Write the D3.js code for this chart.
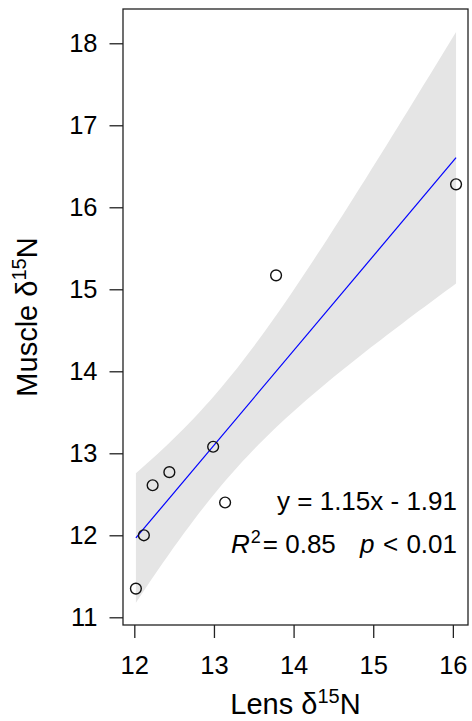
<!DOCTYPE html>
<html>
<head>
<meta charset="utf-8">
<script src="https://cdn.jsdelivr.net/npm/d3@7"></script>
<style>
  html, body { margin: 0; padding: 0; background: #fff; }
  svg { display: block; }
  text { font-family: "Liberation Sans", Arial, Helvetica, sans-serif; fill: #000; }
</style>
</head>
<body>
<svg id="chart" width="472" height="721"></svg>
<script>
// ---- data ----
const lensN   = [12.02, 12.12, 12.23, 12.44, 12.99, 13.14, 13.78, 16.04];
const muscleN = [11.35, 12.00, 12.61, 12.77, 13.08, 12.40, 15.17, 16.28];
const xTicks = [12, 13, 14, 15, 16];
const yTicks = [11, 12, 13, 14, 15, 16, 17, 18];
const xDomain = [11.858, 16.19];
const yDomain = [10.906, 18.418];
const tCrit = 2.4469; // t(0.975, df = 6)
const eqLabel = "y = 1.15x - 1.91";
const r2Label = "0.85";
const pLabel = "0.01";

// ---- layout ----
const svg = d3.select("#chart");
const L = 123, R = 468, T = 9, B = 625;
const x = d3.scaleLinear().domain(xDomain).range([L, R]);
const y = d3.scaleLinear().domain(yDomain).range([B, T]);

// ---- linear fit + 95% confidence band ----
const n = lensN.length;
const mx = d3.mean(lensN), my = d3.mean(muscleN);
let sxx = 0, sxy = 0;
for (let i = 0; i < n; i++) { sxx += (lensN[i]-mx)**2; sxy += (lensN[i]-mx)*(muscleN[i]-my); }
const slope = sxy / sxx, icpt = my - slope * mx;
let sse = 0;
for (let i = 0; i < n; i++) sse += (muscleN[i] - (icpt + slope*lensN[i]))**2;
const s = Math.sqrt(sse / (n - 2));
const [xmin, xmax] = d3.extent(lensN);
const grid = d3.range(0, 61).map(i => xmin + (xmax - xmin) * i / 60); // drawing resolution of the fitted band
const band = grid.map(v => {
  const fit = icpt + slope * v;
  const hw = tCrit * s * Math.sqrt(1/n + (v-mx)**2 / sxx);
  return { x: v, lo: fit - hw, hi: fit + hw, fit };
});

svg.append("path")
  .datum(band)
  .attr("d", d3.area().x(d => x(d.x)).y0(d => y(d.lo)).y1(d => y(d.hi)))
  .attr("fill", "#e5e5e5");

svg.append("path")
  .datum([band[0], band[band.length - 1]])
  .attr("d", d3.line().x(d => x(d.x)).y(d => y(d.fit)))
  .attr("fill", "none").attr("stroke", "#0000ff").attr("stroke-width", 1.2);

// points
svg.append("g").selectAll("circle")
  .data(lensN.map((v, i) => [v, muscleN[i]]))
  .join("circle")
  .attr("cx", d => x(d[0])).attr("cy", d => y(d[1]))
  .attr("r", 5.4)
  .attr("fill", "none").attr("stroke", "#111").attr("stroke-width", 1.4);

// box
svg.append("rect")
  .attr("x", L).attr("y", T).attr("width", R - L).attr("height", B - T)
  .attr("fill", "none").attr("stroke", "#222").attr("stroke-width", 1.3);

// axes
const yAxis = svg.append("g").attr("transform", `translate(${L},0)`)
  .call(d3.axisLeft(y).tickValues(yTicks).tickSize(13.5).tickPadding(12).tickFormat(d3.format("d")));
const xAxis = svg.append("g").attr("transform", `translate(0,${B})`)
  .call(d3.axisBottom(x).tickValues(xTicks).tickSize(13).tickPadding(18).tickFormat(d3.format("d")));
[xAxis, yAxis].forEach(g => {
  g.select(".domain").remove();
  g.selectAll(".tick line").attr("stroke", "#222").attr("stroke-width", 1.3);
  g.selectAll(".tick text").attr("font-size", 25.5).attr("fill", "#000")
    .style("font-family", '"Liberation Sans", Arial, sans-serif');
});

// axis titles
const xt = svg.append("text").attr("x", (L + R) / 2).attr("y", 714)
  .attr("text-anchor", "middle").attr("font-size", 29);
xt.append("tspan").text("Lens δ");
xt.append("tspan").attr("font-size", 20).attr("dy", -11).text("15");
xt.append("tspan").attr("dy", 11).text("N");

const yt = svg.append("text").attr("transform", `translate(37,${(T + B) / 2}) rotate(-90)`)
  .attr("text-anchor", "middle").attr("font-size", 29);
yt.append("tspan").text("Muscle δ");
yt.append("tspan").attr("font-size", 20).attr("dy", -11).text("15");
yt.append("tspan").attr("dy", 11).text("N");

// annotations
svg.append("text").attr("x", 457).attr("y", 510).attr("text-anchor", "end")
  .attr("font-size", 26).text(eqLabel);

const r2 = svg.append("text").attr("x", 231).attr("y", 553).attr("font-size", 26);
r2.append("tspan").attr("font-style", "italic").text("R");
r2.append("tspan").attr("font-size", 18).attr("dy", -10).attr("dx", 1).text("2");
r2.append("tspan").attr("dy", 10).attr("dx", 2).text("= " + r2Label);

svg.append("text").attr("x", 360).attr("y", 553).attr("font-size", 26)
  .attr("font-style", "italic").text("p");
svg.append("text").attr("x", 383).attr("y", 553).attr("font-size", 26).text("<");
svg.append("text").attr("x", 457).attr("y", 553).attr("text-anchor", "end")
  .attr("font-size", 26).text(pLabel);
</script>
</body>
</html>
